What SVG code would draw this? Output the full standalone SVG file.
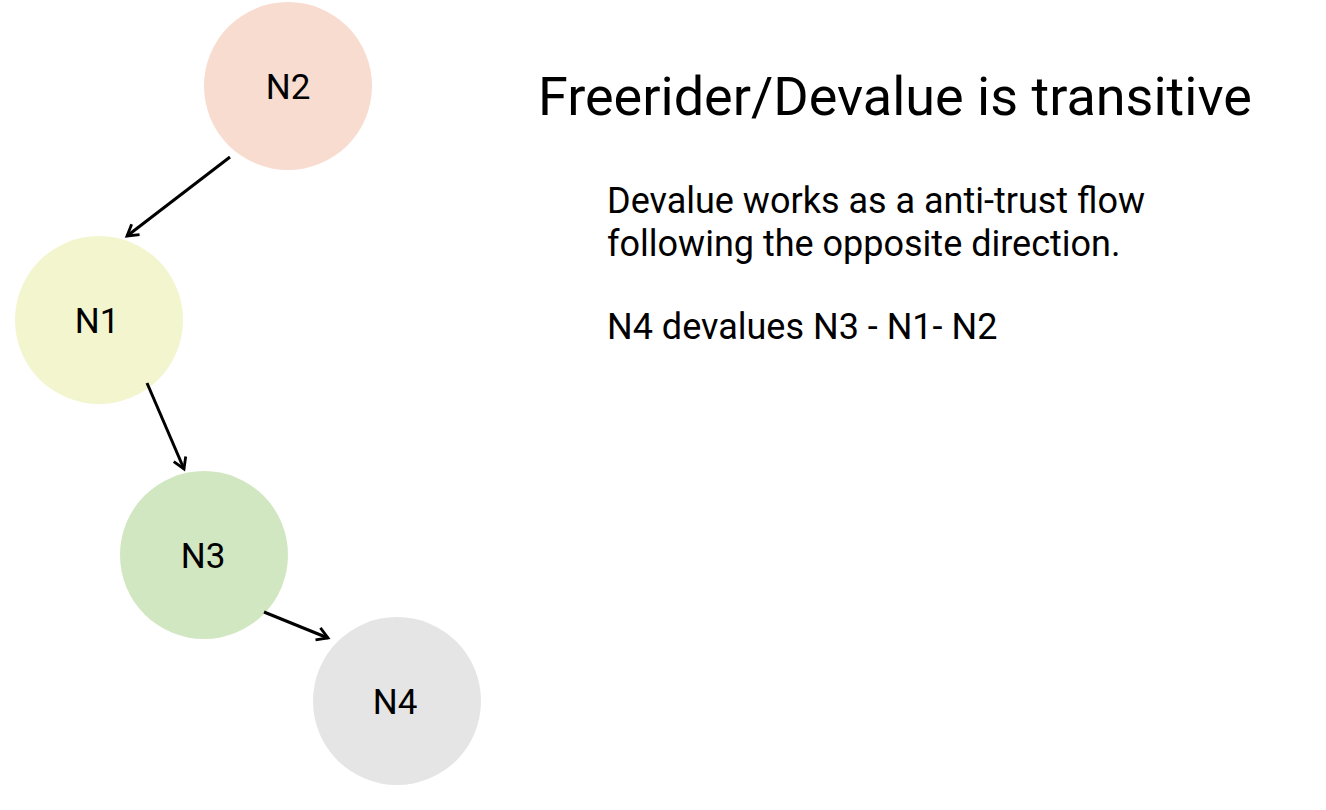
<svg xmlns="http://www.w3.org/2000/svg" width="1326" height="810" viewBox="0 0 1326 810">
<defs>
<style>
.lbl{font-family:Roboto,"Liberation Sans",sans-serif;font-size:35px;fill:#000;text-anchor:middle}
.txt{font-family:Roboto,"Liberation Sans",sans-serif;fill:#000}
.edge{stroke:#000;stroke-width:3;fill:none;marker-end:url(#arr)}
</style>
<marker id="arr" viewBox="0 0 12 12" refX="10" refY="6" markerWidth="13" markerHeight="13" markerUnits="userSpaceOnUse" orient="auto" overflow="visible">
<path d="M0,0 L10,6 L0,12" fill="none" stroke="#000" stroke-width="2.6"/>
</marker>
</defs>
<rect width="1326" height="810" fill="#fff"/>
<g id="n2"><circle cx="288" cy="86" r="84" fill="#f8dcd0"/><text class="lbl" x="288" y="99">N2</text></g>
<g id="n1"><circle cx="99" cy="320" r="84" fill="#f3f5cf"/><text class="lbl" x="97" y="333">N1</text></g>
<g id="n3"><circle cx="204" cy="555" r="84" fill="#d1e7c1"/><text class="lbl" x="203" y="568">N3</text></g>
<g id="n4"><circle cx="397" cy="701" r="84" fill="#e5e5e5"/><text class="lbl" x="395" y="714">N4</text></g>
<g id="edges">
<path class="edge" d="M230,157 L127,236"/>
<path class="edge" d="M147,383 L184,469"/>
<path class="edge" d="M264,612 L328,638"/>
</g>
<g id="text">
<text class="txt" x="538" y="115" font-size="54">Freerider/Devalue is transitive</text>
<text class="txt" x="607" y="213" font-size="36">Devalue works as a anti-trust flow</text>
<text class="txt" x="607" y="256" font-size="36">following the opposite direction.</text>
<text class="txt" x="607" y="339" font-size="36">N4 devalues N3 - N1- N2</text>
</g>
</svg>
